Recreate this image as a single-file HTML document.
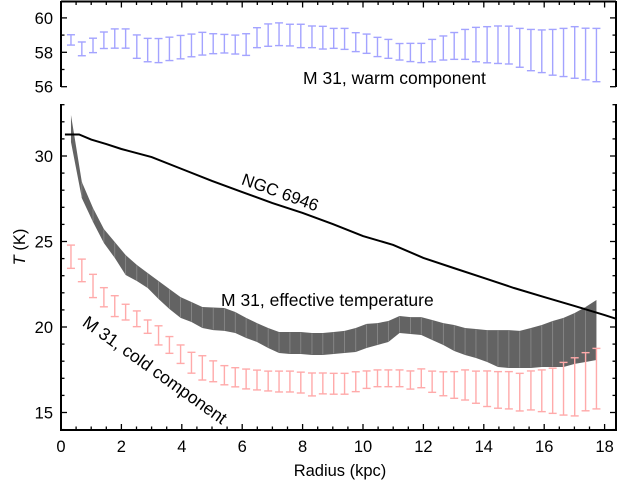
<!DOCTYPE html>
<html><head><meta charset="utf-8">
<style>
html,body{margin:0;padding:0;background:#fff;}
svg{display:block;font-family:"Liberation Sans",Arial,sans-serif;}
</style></head>
<body>
<svg id="chart" width="617" height="484" viewBox="0 0 617 484" xmlns="http://www.w3.org/2000/svg">
<defs><clipPath id="clipB"><rect x="61" y="105" width="555" height="325"/></clipPath></defs>
<g id="topPanel"></g>
<g id="botPanel"></g>
<g id="axesG"></g>
<text x="303" y="84" font-size="17.5">M 31, warm component</text>
<text x="280" y="198" font-size="17" text-anchor="middle" transform="rotate(20 280 193)">NGC 6946</text>
<text x="221" y="306" font-size="17.5">M 31, effective temperature</text>
<text x="155" y="376" font-size="17.5" text-anchor="middle" transform="rotate(35.5 155 370)">M 31, cold component</text>
<text x="340" y="476" font-size="16.5" text-anchor="middle">Radius (kpc)</text>
<text x="0" y="0" font-size="16.5" text-anchor="middle" transform="translate(25 247) rotate(-90)"><tspan font-style="italic">T</tspan> (K)</text>
</svg>
<script>
const radii=[0.33,0.69,1.06,1.42,1.78,2.14,2.51,2.87,3.23,3.59,3.96,4.32,4.68,5.04,5.41,5.77,6.13,6.49,6.86,7.22,7.58,7.94,8.31,8.67,9.03,9.39,9.76,10.12,10.48,10.84,11.21,11.57,11.93,12.29,12.66,13.02,13.38,13.74,14.11,14.47,14.83,15.19,15.56,15.92,16.28,16.64,17.01,17.37,17.73];
const warmT=[58.72,58.2,58.4,58.7,58.8,58.8,58.33,58.13,58.1,58.2,58.3,58.4,58.5,58.5,58.5,58.45,58.45,58.85,59.0,59.05,59.0,58.95,58.9,58.85,58.81,58.78,58.59,58.5,58.31,58.2,58.03,57.99,57.96,58.1,58.25,58.37,58.46,58.45,58.44,58.44,58.42,58.26,58.13,58.06,58.0,57.99,57.99,57.9,57.84];
const warmErr=[0.30,0.40,0.42,0.48,0.56,0.56,0.68,0.68,0.70,0.68,0.68,0.66,0.66,0.58,0.54,0.55,0.63,0.58,0.65,0.66,0.63,0.68,0.63,0.66,0.58,0.61,0.55,0.56,0.56,0.55,0.48,0.53,0.56,0.65,0.70,0.78,0.87,1.0,1.05,1.09,1.10,1.13,1.2,1.24,1.33,1.4,1.5,1.5,1.55];
const coldT=[24.11,23.31,22.40,21.74,21.22,20.87,20.48,20.02,19.51,18.95,18.41,17.91,17.61,17.41,17.18,17.06,16.96,16.90,16.84,16.81,16.81,16.75,16.64,16.70,16.68,16.68,16.80,16.92,17.00,17.00,17.00,16.90,17.00,16.80,16.68,16.61,16.61,16.48,16.39,16.32,16.30,16.19,16.29,16.27,16.27,16.39,16.50,16.80,16.98];
const coldErr=[0.68,0.66,0.68,0.56,0.61,0.46,0.46,0.39,0.56,0.49,0.54,0.61,0.71,0.61,0.56,0.56,0.58,0.58,0.58,0.61,0.61,0.61,0.67,0.61,0.61,0.61,0.58,0.51,0.49,0.49,0.49,0.53,0.55,0.62,0.70,0.78,0.88,0.94,1.04,1.07,1.09,1.10,1.14,1.22,1.32,1.54,1.70,1.70,1.77];
const effUpper=[32.40,28.48,26.96,25.73,24.97,24.21,23.63,23.16,22.69,22.22,21.75,21.46,21.17,21.14,21.11,20.88,20.53,20.23,19.94,19.71,19.71,19.71,19.65,19.65,19.71,19.77,19.94,20.18,20.23,20.35,20.64,20.58,20.58,20.41,20.23,20.12,19.94,19.88,19.82,19.82,19.82,19.77,19.94,20.12,20.35,20.53,20.82,21.17,21.58];
const effLower=[30.82,27.54,26.14,24.91,24.04,23.04,22.69,22.28,21.64,21.05,20.53,20.29,19.94,19.82,19.77,19.65,19.36,19.12,18.77,18.48,18.42,18.42,18.36,18.36,18.42,18.48,18.54,18.77,18.95,19.12,19.65,19.59,19.53,19.24,18.95,18.60,18.36,18.19,17.95,17.66,17.60,17.60,17.60,17.66,17.66,17.66,17.84,17.95,18.07];
const ngcR=[0.13,0.6,1.0,1.5,2,3,4,5,6,7,8,9,10,11,12,13,14,15,16,17,18,18.4];
const ngcT=[31.26,31.26,30.96,30.70,30.41,29.94,29.24,28.54,27.89,27.25,26.67,26.02,25.32,24.80,24.04,23.45,22.87,22.28,21.75,21.23,20.70,20.47];
const xTicks=[0,2,4,6,8,10,12,14,16,18];
const yTicksMain=[15,20,25,30];
const yTicksTop=[56,58,60];

const NS="http://www.w3.org/2000/svg";
const X=r=>61+r*30.2;
const YB=t=>156+(30-t)*17.1;
const YT=v=>52.3+(58-v)*17.2;
function mk(tag,attrs,parent){const e=document.createElementNS(NS,tag);for(const k in attrs)e.setAttribute(k,attrs[k]);parent.appendChild(e);return e;}
const topG=document.getElementById('topPanel'),botG=document.getElementById('botPanel'),axesG=document.getElementById('axesG');

function errbar(parent,x,y1,y2,color,name){
  const g=mk('g',{},parent);
  
  
  mk('line',{x1:x,x2:x,y1:y1,y2:y2,stroke:color,'stroke-width':1.4},g);
  mk('line',{x1:x-4,x2:x+4,y1:y1,y2:y1,stroke:color,'stroke-width':1.4},g);
  mk('line',{x1:x-4,x2:x+4,y1:y2,y2:y2,stroke:color,'stroke-width':1.4},g);
}
radii.forEach((r,i)=>{errbar(topG,X(r),YT(warmT[i]+warmErr[i]),YT(warmT[i]-warmErr[i]),'#a3a3ff','warm-errorbar');});

let pts=radii.map((r,i)=>X(r)+','+YB(effUpper[i]));
pts=pts.concat(radii.map((r,i)=>X(r)+','+YB(effLower[i])).reverse());
const band=mk('polygon',{points:pts.join(' '),fill:'#636363'},botG);


radii.forEach((r,i)=>{if(i>0&&i<radii.length-1){const l=mk('line',{x1:X(r),x2:X(r),y1:YB(effUpper[i])+0.5,y2:YB(effLower[i])-0.5,stroke:'#8c8c8c','stroke-width':0.8},botG);

}});

radii.forEach((r,i)=>{errbar(botG,X(r),YB(coldT[i]+coldErr[i]),YB(coldT[i]-coldErr[i]),'#ffaaaa','cold-errorbar');});

const ngc=mk('polyline',{points:ngcR.map((r,i)=>X(r)+','+YB(ngcT[i])).join(' '),fill:'none',stroke:'#000','stroke-width':2,'clip-path':'url(#clipB)'},botG);



const L=61,R=616;
function ln(x1,y1,x2,y2,w,name){const e=mk('line',{x1:x1,y1:y1,x2:x2,y2:y2,stroke:'#000','stroke-width':w},axesG);

return e;}
ln(L,1.5,R,1.5,2,'top-panel-top-axis');
ln(L,1,L,87,2,'top-panel-left-axis');
ln(R,1,R,87,2,'top-panel-right-axis');
ln(L,104,L,431,2,'y-axis');
ln(R,104,R,431,2,'right-axis');
ln(L-1,430,R+1,430,2,'x-axis');
for(let k=0;k<=36;k++){const r=k*0.5;const maj=k%4===0;const x=X(r);
 ln(x,430,x,430-(maj?6:3.5),1.3,'x-tick');
 ln(x,1.5,x,1.5+(maj?6:3.5),1.3,'x-tick-top');}
xTicks.forEach(v=>{const t=mk('text',{x:X(v),y:452,'font-size':16.5,'text-anchor':'middle'},axesG);t.textContent=v;

});
for(let v=14;v<=33;v++){const maj=v%5===0;const y=YB(v);
 ln(L,y,L+(maj?6:3.5),y,1.3,'y-tick');ln(R,y,R-(maj?6:3.5),y,1.3,'y-tick-right');}
yTicksMain.forEach(v=>{const t=mk('text',{x:53,y:YB(v)+6,'font-size':16.5,'text-anchor':'end'},axesG);t.textContent=v;

});
for(let v=56;v<=60;v++){const maj=v%2===0;const y=YT(v);
 ln(L,y,L+(maj?6:3.5),y,1.3,'top-y-tick');ln(R,y,R-(maj?6:3.5),y,1.3,'top-y-tick-right');}
yTicksTop.forEach(v=>{const t=mk('text',{x:53,y:YT(v)+6,'font-size':16.5,'text-anchor':'end'},axesG);t.textContent=v;

});
</script>
</body></html>
